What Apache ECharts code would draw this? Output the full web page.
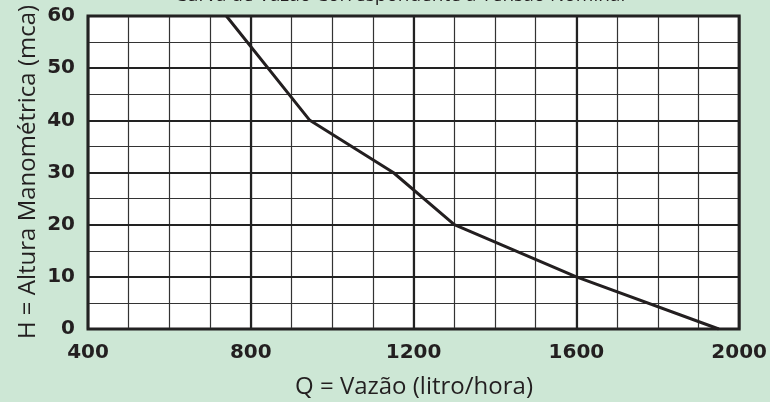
<!DOCTYPE html>
<html>
<head>
<meta charset="utf-8">
<script src="https://cdn.jsdelivr.net/npm/echarts@6/dist/echarts.min.js"></script>
<style>
html,body{margin:0;padding:0;background:#cde7d5;}
#c{width:770px;height:402px;}
</style>
</head>
<body>
<div id="c"></div>
<script>
const flowValues = [740, 945, 1150, 1300, 1600, 1950];
const headValues = [60, 40, 30, 20, 10, 0];
const xTicks = [400, 800, 1200, 1600, 2000];
const yTicks = [0, 10, 20, 30, 40, 50, 60];
const titleText = 'Curva de Vazão Correspondente à Tensão Nominal';
const xName = 'Q = Vazão (litro/hora)';
const yName = 'H = Altura Manométrica (mca)';

const ink = '#231f20';
const chart = echarts.init(document.getElementById('c'), null, {renderer: 'canvas'});
const data = flowValues.map((x, i) => [x, headValues[i]]);

chart.setOption({
  backgroundColor: '#cde7d5',
  animation: false,
  grid: {left: 88, right: 29, top: 16, bottom: 73, show: true, backgroundColor: '#ffffff', borderColor: ink, borderWidth: 3, containLabel: false},
  xAxis: [
    {type: 'value', min: xTicks[0], max: xTicks[xTicks.length - 1], interval: 400, position: 'bottom',
     axisLine: {show: false}, axisTick: {show: false},
     axisLabel: {color: ink, fontFamily: 'DejaVu Sans', fontWeight: 'bold', fontSize: 20, margin: 14,
       formatter: v => String(v)},
     splitLine: {show: true, lineStyle: {color: '#222', width: 2.2}}, z: 3},
    {type: 'value', min: xTicks[0], max: xTicks[xTicks.length - 1], interval: 100, position: 'top',
     axisLine: {show: false}, axisTick: {show: false}, axisLabel: {show: false},
     splitLine: {show: true, lineStyle: {color: '#333', width: 1.2}}, z: 2}
  ],
  yAxis: [
    {type: 'value', min: yTicks[0], max: yTicks[yTicks.length - 1], interval: 10, position: 'left',
     axisLine: {show: false}, axisTick: {show: false},
     axisLabel: {color: ink, fontFamily: 'DejaVu Sans', fontWeight: 'bold', fontSize: 20, margin: 13, padding: [5, 0, 0, 0]},
     splitLine: {show: true, lineStyle: {color: '#222', width: 2}}, z: 3},
    {type: 'value', min: yTicks[0], max: yTicks[yTicks.length - 1], interval: 5, position: 'right',
     axisLine: {show: false}, axisTick: {show: false}, axisLabel: {show: false},
     splitLine: {show: true, lineStyle: {color: '#333', width: 1.2}}, z: 2}
  ],
  series: [{
    type: 'line', data: data, xAxisIndex: 0, yAxisIndex: 0,
    symbol: 'none', lineStyle: {color: ink, width: 3}, z: 5
  }],
  graphic: [
    {type: 'text', z: 10, style: {text: titleText, x: 400, y: -4, textAlign: 'center', textVerticalAlign: 'middle', fill: ink, font: '19px "Open Sans"'}},
    {type: 'text', z: 10, style: {text: xName, x: 414, y: 387, textAlign: 'center', textVerticalAlign: 'middle', fill: ink, font: '24px "Open Sans"'}},
    {type: 'text', z: 10, x: 28, y: 172, rotation: Math.PI / 2, style: {text: yName, x: 0, y: 0, textAlign: 'center', textVerticalAlign: 'middle', fill: ink, font: '24px "Open Sans"'}}
  ]
});
</script>
</body>
</html>
